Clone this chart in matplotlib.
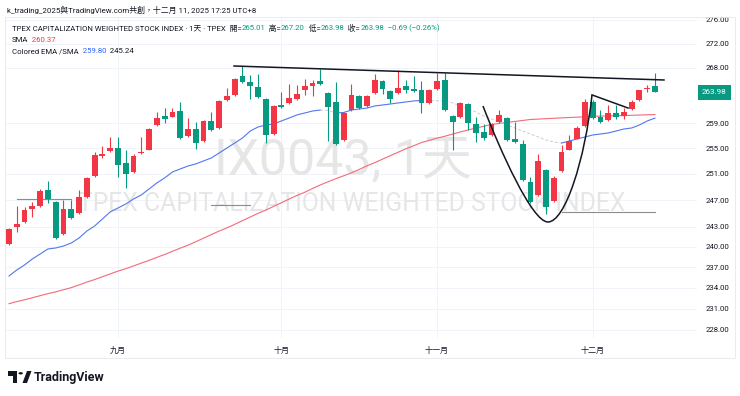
import numpy as np
import matplotlib
matplotlib.use('Agg')
import matplotlib.pyplot as plt
from matplotlib.path import Path
from matplotlib.patches import PathPatch, Rectangle, Circle, Polygon
from matplotlib.ticker import FuncFormatter, NullLocator

plt.rcParams['font.family'] = ['Roboto', 'Noto Sans CJK TC', 'DejaVu Sans']

# daily bars, 2025-08-12 .. 2025-12-11 (Taiwan colours: red = up, green = down)
opens = [240.45, 242.90, 243.74, 245.71, 246.11, 248.54, 246.70, 241.95, 245.67, 245.08,
         247.46, 250.69, 253.77, 254.54, 255.00, 252.69, 251.26, 254.23, 254.80, 258.68,
         260.20, 260.03, 260.97, 256.97, 258.09, 256.17, 259.33, 258.15, 262.76, 263.58,
         266.58, 265.66, 264.84, 262.88, 257.24, 261.95, 262.22, 262.88, 264.29, 265.05,
         265.76, 263.86, 262.43, 256.28, 261.13, 263.30, 261.67, 263.86, 265.76, 264.24,
         263.86, 264.94, 264.52, 264.40, 262.22, 264.57, 265.92, 260.15, 259.93, 262.06,
         258.84, 257.51, 257.08, 259.11, 259.77, 256.55, 255.75, 249.77, 247.77, 251.62,
         246.85, 251.51, 254.80, 256.55, 258.52, 262.32, 259.93, 259.49, 260.59, 260.20,
         261.29, 262.76, 264.52, 265.01]
highs = [242.85, 246.11, 245.96, 246.70, 248.65, 249.92, 246.85, 247.00, 247.00, 248.54,
         250.54, 254.38, 255.32, 256.76, 256.76, 254.69, 254.08, 256.81, 258.20, 260.85,
         261.46, 261.50, 262.32, 259.82, 259.20, 259.50, 260.80, 262.76, 264.73, 266.36,
         268.22, 266.85, 266.97, 263.09, 261.87, 264.02, 265.33, 265.21, 266.17, 266.00,
         267.84, 264.07, 265.66, 260.80, 265.33, 263.50, 263.58, 267.02, 266.00, 264.40,
         267.67, 266.00, 266.67, 265.76, 264.57, 267.11, 267.11, 260.31, 262.43, 262.27,
         260.03, 258.84, 259.00, 261.13, 259.98, 259.21, 256.28, 250.58, 254.18, 251.77,
         250.69, 255.59, 257.08, 258.52, 262.88, 262.76, 261.13, 261.95, 261.84, 261.46,
         262.76, 264.40, 265.13, 267.20]
lows = [240.30, 242.25, 243.60, 244.48, 245.96, 246.56, 241.20, 241.80, 244.19, 244.93,
        247.31, 250.54, 253.46, 254.38, 250.54, 248.85, 251.15, 254.15, 254.69, 258.52,
        259.00, 259.90, 256.44, 256.84, 254.85, 256.04, 257.72, 258.04, 262.60, 263.42,
        265.55, 262.93, 263.09, 255.80, 257.08, 261.46, 262.11, 262.76, 263.47, 263.42,
        265.21, 256.12, 255.48, 256.12, 260.97, 261.29, 261.54, 263.75, 263.70, 262.22,
        263.75, 263.86, 264.07, 260.59, 262.07, 264.40, 260.97, 254.69, 259.82, 257.88,
        256.01, 256.28, 256.92, 259.00, 256.12, 255.88, 249.92, 246.56, 247.62, 244.93,
        246.70, 251.38, 254.69, 256.44, 258.36, 259.66, 259.00, 259.33, 259.61, 259.66,
        261.13, 262.60, 264.07, 263.98]
closes = [242.56, 243.40, 245.52, 246.11, 248.43, 247.15, 241.35, 245.67, 244.34, 247.46,
          250.38, 253.92, 254.08, 255.00, 252.39, 251.00, 253.82, 254.43, 258.04, 259.82,
          259.66, 260.80, 256.60, 258.09, 255.85, 259.33, 257.88, 262.60, 263.42, 266.15,
          265.66, 265.05, 263.20, 257.08, 261.67, 261.57, 263.04, 263.75, 264.94, 265.49,
          265.33, 261.51, 255.64, 260.59, 263.58, 261.41, 263.30, 265.92, 264.57, 262.88,
          264.68, 264.40, 264.19, 262.22, 264.40, 265.76, 261.13, 259.21, 262.22, 258.95,
          257.35, 256.71, 258.84, 260.31, 256.28, 256.01, 250.08, 246.75, 253.00, 246.01,
          250.43, 254.43, 256.12, 258.25, 262.38, 259.77, 259.16, 260.59, 259.93, 260.75,
          262.38, 264.29, 264.67, 263.98]

# SMA (red) and the coloured EMA (blue when rising, grey dashed when falling)
sma = [231.71, 232.01, 232.27, 232.56, 232.86, 233.15, 233.41, 233.71, 234.01, 234.41,
       234.82, 235.18, 235.59, 236.00, 236.41, 236.76, 237.17, 237.58, 237.98, 238.42,
       238.85, 239.32, 239.78, 240.22, 240.74, 241.26, 241.80, 242.32, 242.80, 243.33,
       243.89, 244.43, 244.99, 245.47, 246.04, 246.59, 247.15, 247.70, 248.19, 248.76,
       249.31, 249.80, 250.28, 250.72, 251.18, 251.71, 252.27, 252.76, 253.31, 253.86,
       254.39, 254.93, 255.41, 255.92, 256.26, 256.61, 256.91, 257.25, 257.59, 257.91,
       258.22, 258.49, 258.79, 258.95, 259.11, 259.26, 259.42, 259.58, 259.64, 259.71,
       259.77, 259.84, 259.90, 259.95, 260.02, 260.08, 260.12, 260.15, 260.18, 260.20,
       260.25, 260.29, 260.33, 260.37]
ema = [235.70, 236.58, 237.31, 238.19, 238.92, 239.66, 239.81, 240.10, 240.54, 241.29,
       242.33, 243.08, 244.13, 245.19, 245.79, 246.40, 247.16, 247.78, 248.69, 249.62,
       250.39, 251.31, 251.78, 252.24, 252.56, 253.03, 253.49, 254.27, 255.05, 255.84,
       256.63, 257.74, 258.38, 258.70, 258.86, 259.34, 259.82, 260.31, 260.62, 260.94,
       261.10, 261.02, 260.62, 260.70, 261.10, 261.26, 261.42, 261.75, 261.91, 262.07,
       262.24, 262.40, 262.56, 262.66, 262.62, 262.60, 262.56, 262.24, 261.75, 261.26,
       260.78, 260.14, 259.66, 259.18, 258.70, 258.22, 257.74, 257.27, 256.79, 256.32,
       256.00, 255.84, 256.16, 256.48, 256.79, 257.11, 257.27, 257.43, 257.74, 258.06,
       258.22, 258.70, 259.34, 259.80]
# second value of the EMA/SMA study, drawn as short flat pieces (first bar, last bar, level)
level_pieces = [(2, 9, 247.16), (27, 32, 246.30), (72, 84, 245.24)]

month_bars = [15, 36, 56, 76]
month_names = ['九月', '十月', '十一月', '十二月']
price_ticks = [228, 231, 234, 237, 240, 243, 247, 251, 255, 259, 268, 272, 276]
last_price = 263.98

# hand drawings on the chart: (bar, price)
trend_line = [(29.91, 268.28), (85.16, 265.98)]
flag_line = [(75.91, 263.54), (80.54, 261.42)]
cup_pts = [(61.90, 261.75), (64.09, 254.74), (68.20, 243.68), (70.25, 243.68),
           (72.44, 243.68), (75.01, 253.18), (75.91, 263.54)]

RED = '#f23645'
GREEN = '#089981'
TXT = '#131722'

W, H = 740, 396
fig = plt.figure(figsize=(W / 100, H / 100), dpi=100)
fig.patch.set_facecolor('white')


def fx(x):
    return x / W


def fy(y):
    return 1 - y / H


ax = fig.add_axes([fx(5), fy(338), fx(697) - fx(5), fy(17) - fy(338)])
ax.set_facecolor('none')

o, h, l, c = map(np.array, (opens, highs, lows, closes))
x = np.arange(1, len(c) + 1)
col = np.where(c >= o, RED, GREEN)
ax.vlines(x, l, h, colors=col, lw=0.8, zorder=3)
lo = np.minimum(o, c)
ax.bar(x, np.maximum(np.abs(c - o), 0.07), bottom=lo, width=0.75, color=col, lw=0, zorder=3)

ax.plot(x, sma, color='#f26b78', lw=0.8, zorder=2)

# colour each run of the EMA by its direction
e = np.array(ema)
rising = np.diff(e) >= 0
start = 0
for i in range(1, len(rising) + 1):
    if i == len(rising) or rising[i] != rising[start]:
        seg = slice(start, i + 1)
        if rising[start]:
            ax.plot(x[seg], e[seg], color='#5177f0', lw=0.8, zorder=2)
        else:
            ax.plot(x[seg], e[seg], color='#c9ccd4', lw=0.7, ls=(0, (3, 2)), zorder=2)
        start = i

for a, b, v in level_pieces:
    ax.plot([a, b], [v, v], color='#8c8c8c', lw=0.8, zorder=2)

ax.plot(*zip(*trend_line), color=TXT, lw=1.1, zorder=4)
ax.plot(*zip(*flag_line), color=TXT, lw=1.1, zorder=4)
codes = [Path.MOVETO] + [Path.CURVE4] * 6
ax.add_patch(PathPatch(Path(cup_pts, codes), fill=False, ec=TXT, lw=1.1, zorder=4))

ax.set_yscale('log')
ax.set_xlim(0.486, 89.40)
ax.set_ylim(226.86, 276.51)
ax.set_yticks(price_ticks)
ax.yaxis.set_minor_locator(NullLocator())
ax.yaxis.set_major_formatter(FuncFormatter(lambda v, _: f'{v:.2f}'))
ax.yaxis.tick_right()
ax.set_xticks(month_bars)
ax.set_xticklabels(month_names)
ax.tick_params(axis='y', length=0, pad=6, labelsize=5.6, labelcolor=TXT)
ax.tick_params(axis='x', length=0, pad=6, labelsize=5.8, labelcolor=TXT)
ax.grid(True, color='#f0f3fa', lw=0.7)
ax.set_axisbelow(True)
for s in ax.spines.values():
    s.set_visible(False)

ax.annotate(f'{last_price:.2f}', xy=(1, last_price), xycoords=('axes fraction', 'data'),
            xytext=(3.6, 0), textcoords='offset points', ha='left', va='center',
            fontsize=5.8, color='white',
            bbox=dict(boxstyle='square,pad=0.55', fc=GREEN, ec='none'))

# watermark
ax.text(fx(343), fy(160), 'IX0043, 1天', transform=fig.transFigure, ha='center', va='center',
        fontsize=36, color='#e6e6e6', zorder=0.6)
ax.text(fx(352), fy(204), 'TPEX CAPITALIZATION WEIGHTED STOCK INDEX', transform=fig.transFigure,
        ha='center', va='center', fontsize=17.8, color='#e6e6e6', zorder=0.6)

fig.add_artist(Rectangle((fx(5), fy(358)), fx(735) - fx(5), fy(17) - fy(358),
                         transform=fig.transFigure, fill=False, ec='#e6e8ee', lw=0.6))

renderer = fig.canvas.get_renderer()


def chain(x0, y0, pieces, size):
    for s, colr in pieces:
        t = fig.text(fx(x0), fy(y0), s, color=colr, fontsize=size, va='center', ha='left')
        x0 = t.get_window_extent(renderer=renderer).x1


fig.text(fx(7), fy(10), 'k_trading_2025與TradingView.com共創，十二月 11, 2025 17:25 UTC+8',
         fontsize=5.7, color=TXT, va='center')
chain(12, 28, [('TPEX CAPITALIZATION WEIGHTED STOCK INDEX · 1天 · TPEX', TXT),
               ('  開=', TXT), (f'{opens[-1]:.2f}', GREEN),
               ('  高=', TXT), (f'{highs[-1]:.2f}', GREEN),
               ('  低=', TXT), (f'{lows[-1]:.2f}', GREEN),
               ('  收=', TXT), (f'{closes[-1]:.2f}', GREEN),
               ('  −0.69 (−0.26%)', GREEN)], 5.6)
chain(12, 39.5, [('SMA', TXT), ('  ' + f'{sma[-1]:.2f}', RED)], 5.6)
chain(12, 51, [('Colored EMA /SMA', TXT), ('  ' + f'{ema[-1]:.2f}', '#2962ff'),
               ('  245.24', TXT)], 5.6)

# TradingView logo
fig.add_artist(Rectangle((fx(8), fy(375.5)), fx(9), 4.5 / H, transform=fig.transFigure, fc=TXT, ec='none'))
fig.add_artist(Rectangle((fx(13), fy(383)), fx(4.2), 12 / H, transform=fig.transFigure, fc=TXT, ec='none'))
fig.add_artist(Circle((fx(20.7), fy(373.3)), 2.2 / W, transform=fig.transFigure, fc=TXT, ec='none'))
fig.add_artist(Polygon([(fx(22.5), fy(383)), (fx(27), fy(383)), (fx(31.5), fy(371)), (fx(27), fy(371))],
                       closed=True, transform=fig.transFigure, fc=TXT, ec='none'))
fig.text(fx(34), fy(377), 'TradingView', fontsize=9, fontweight='bold', color=TXT, va='center')

fig.savefig('out.png', dpi=100)
